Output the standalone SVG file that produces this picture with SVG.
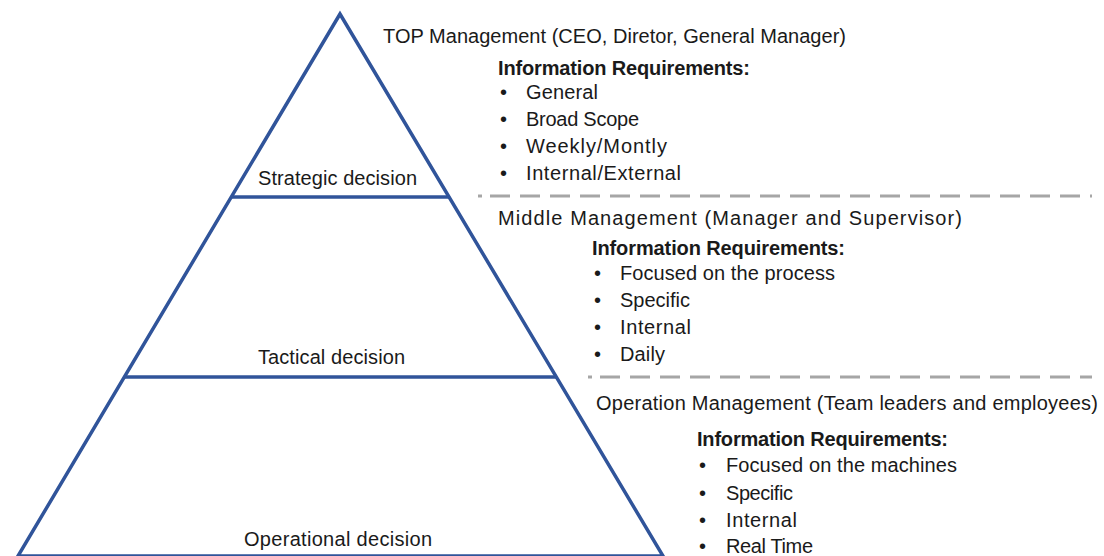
<svg xmlns="http://www.w3.org/2000/svg" width="1104" height="556" viewBox="0 0 1104 556">
  <style>
    text { font-family: "Liberation Sans", Arial, sans-serif; font-size: 20px; fill: #1a1a1a; }
    .b { font-weight: bold; }
    .tier { fill: none; stroke: #30549A; stroke-width: 3.5; stroke-linejoin: miter; }
    .sep { stroke: #A6A6A6; stroke-width: 3; stroke-dasharray: 20 10; }
  </style>
  <rect width="1104" height="556" fill="#ffffff"/>

  <!-- pyramid outline and tier dividers -->
  <g id="pyramid">
    <path class="tier" d="M340 14 L18 556 L663 556 Z"/>
    <line class="tier" x1="231" y1="197" x2="449" y2="197"/>
    <line class="tier" x1="124" y1="377" x2="556" y2="377"/>
  </g>

  <!-- dashed separators between management levels -->
  <g id="connectors">
    <line class="sep" x1="478" y1="196" x2="482" y2="196" stroke-dasharray="none"/>
    <line class="sep" x1="490" y1="196" x2="1092" y2="196"/>
    <line class="sep" x1="588" y1="377" x2="592" y2="377" stroke-dasharray="none"/>
    <line class="sep" x1="600" y1="377" x2="1092" y2="377"/>
  </g>

  <g id="strategic">
    <text x="258" y="185" textLength="159">Strategic decision</text>
    <text x="383" y="43" textLength="463">TOP Management (CEO, Diretor, General Manager)</text>
    <text class="b" x="498" y="75" textLength="252">Information Requirements:</text>
    <text x="500" y="99">•</text><text x="526" y="99" textLength="72">General</text>
    <text x="500" y="126">•</text><text x="526" y="126" textLength="113">Broad Scope</text>
    <text x="500" y="153">•</text><text x="526" y="153" textLength="141">Weekly/Montly</text>
    <text x="500" y="180">•</text><text x="526" y="180" textLength="155">Internal/External</text>
  </g>

  <g id="tactical">
    <text x="258" y="364" textLength="147">Tactical decision</text>
    <text x="498" y="225" textLength="464">Middle Management (Manager and Supervisor)</text>
    <text class="b" x="592" y="255" textLength="253">Information Requirements:</text>
    <text x="594" y="280">•</text><text x="620" y="280" textLength="215">Focused on the process</text>
    <text x="594" y="307">•</text><text x="620" y="307" textLength="70">Specific</text>
    <text x="594" y="334">•</text><text x="620" y="334" textLength="71">Internal</text>
    <text x="594" y="361">•</text><text x="620" y="361" textLength="45">Daily</text>
  </g>

  <g id="operational">
    <text x="244" y="546" textLength="188">Operational decision</text>
    <text x="596" y="410" textLength="502">Operation Management (Team leaders and employees)</text>
    <text class="b" x="697" y="446" textLength="251">Information Requirements:</text>
    <text x="699" y="472">•</text><text x="726" y="472" textLength="231">Focused on the machines</text>
    <text x="699" y="500">•</text><text x="726" y="500" textLength="67">Specific</text>
    <text x="699" y="527">•</text><text x="726" y="527" textLength="71">Internal</text>
    <text x="699" y="553">•</text><text x="726" y="553" textLength="87">Real Time</text>
  </g>
</svg>
